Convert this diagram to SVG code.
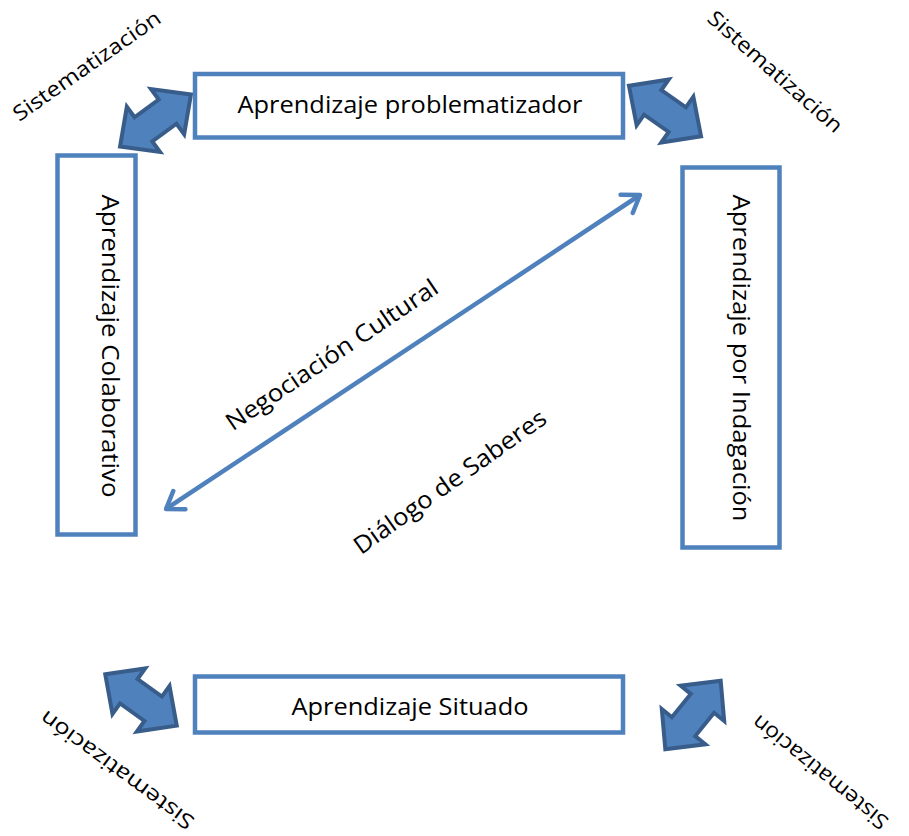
<svg xmlns="http://www.w3.org/2000/svg" width="909" height="836" viewBox="0 0 909 836">
<style>
.box{fill:#fff;stroke:#4F81BD;stroke-width:4.5}
.lbl{font-family:"Open Sans","Liberation Sans",sans-serif;font-size:24px;fill:#000}
.sm{font-family:"Open Sans","Liberation Sans",sans-serif;font-size:21px;fill:#000}
.blk{fill:#4F81BD;stroke:#385D8A;stroke-width:4;stroke-linejoin:miter}
.line{stroke:#4F81BD;stroke-width:4.5;fill:none}
</style>
<defs>
<marker id="chev" markerUnits="userSpaceOnUse" markerWidth="40" markerHeight="40" refX="0" refY="0" viewBox="-25 -20 40 40" orient="auto-start-reverse" overflow="visible">
<path d="M -16 -11 L 0 0 L -16 11" fill="none" stroke="#4F81BD" stroke-width="4.5" stroke-linecap="round" stroke-linejoin="round"/>
</marker>
<path id="dbl" d="M -44 0 L -15 -28 L -15 -15 L 15 -15 L 15 -28 L 44 0 L 15 28 L 15 15 L -15 15 L -15 28 Z"/>
</defs>
<rect width="909" height="836" fill="#fff"/>
<g id="connectors">
<line class="line" x1="166" y1="509" x2="640" y2="195" marker-start="url(#chev)" marker-end="url(#chev)"/>
<use href="#dbl" class="blk" transform="translate(155.5,120.5) rotate(-36.3)"/>
<use href="#dbl" class="blk" transform="translate(665,111) rotate(35)"/>
<use href="#dbl" class="blk" transform="translate(141,700) rotate(35.7)"/>
<use href="#dbl" class="blk" transform="translate(693,715) rotate(-51)"/>
</g>
<g id="n-problematizador">
<rect class="box" x="195" y="74" width="428" height="63.5"/>
<text class="lbl" x="410" y="113" text-anchor="middle" textLength="345" lengthAdjust="spacingAndGlyphs">Aprendizaje problematizador</text>
</g>
<g id="n-colaborativo">
<rect class="box" x="57.5" y="155.5" width="78" height="379"/>
<text class="lbl" transform="translate(102,346) rotate(90)" x="0" y="0" text-anchor="middle" textLength="303" lengthAdjust="spacingAndGlyphs">Aprendizaje Colaborativo</text>
</g>
<g id="n-indagacion">
<rect class="box" x="682.5" y="167.5" width="97" height="380"/>
<text class="lbl" transform="translate(733,358) rotate(90)" x="0" y="0" text-anchor="middle" textLength="327" lengthAdjust="spacingAndGlyphs">Aprendizaje por Indagación</text>
</g>
<g id="n-situado">
<rect class="box" x="195" y="676.5" width="428" height="56"/>
<text class="lbl" x="410" y="715" text-anchor="middle" textLength="237" lengthAdjust="spacingAndGlyphs">Aprendizaje Situado</text>
</g>
<g id="labels">
<text class="lbl" transform="translate(332,355) rotate(-34)" x="0" y="8" text-anchor="middle" textLength="250" lengthAdjust="spacingAndGlyphs">Negociación Cultural</text>
<text class="lbl" transform="translate(450,482) rotate(-35.4)" x="0" y="8" text-anchor="middle" textLength="230" lengthAdjust="spacingAndGlyphs">Diálogo de Saberes</text>
<text class="sm" transform="translate(87,66) rotate(-35)" x="0" y="7" text-anchor="middle" textLength="175" lengthAdjust="spacingAndGlyphs">Sistematización</text>
<text class="sm" transform="translate(775,72) rotate(41.5)" x="0" y="7" text-anchor="middle" textLength="172" lengthAdjust="spacingAndGlyphs">Sistematización</text>
<text class="sm" transform="translate(117,770) rotate(216.3)" x="0" y="7" text-anchor="middle" textLength="185" lengthAdjust="spacingAndGlyphs">Sistematización</text>
<text class="sm" transform="translate(820,772) rotate(219)" x="0" y="7" text-anchor="middle" textLength="168" lengthAdjust="spacingAndGlyphs">Sistematización</text>
</g>
</svg>
